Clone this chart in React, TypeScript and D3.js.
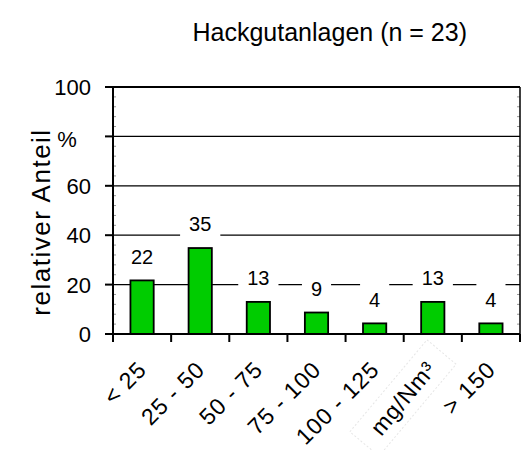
import React from 'react';
import * as d3 from 'd3';

const categories = ["< 25", "25 - 50", "50 - 75", "75 - 100", "100 - 125", "125 - 150", "> 150"];
const shares = [21.7, 34.8, 13.0, 8.7, 4.3, 13.0, 4.3];
const valueLabels = ["22", "35", "13", "9", "4", "13", "4"];
const yTicks = [0, 20, 40, 60, 80, 100];
const yTickLabels = ["0", "20", "40", "60", "%", "100"];
const title = "Hackgutanlagen (n = 23)";
const yTitle = "relativer Anteil";
const unitLabel = "mg/Nm³";
const categoryUnderUnit = "125 - 150";

const W = 528;
const H = 450;
const left = 113;
const right = 520;
const top = 87;
const bottom = 334;
const FONT = "Arial, 'Liberation Sans', Helvetica, sans-serif";

export default function App() {
  const x = d3.scaleBand<string>().domain(categories).range([left, right]).paddingInner(0.6).paddingOuter(0.3);
  const y = d3.scaleLinear().domain([0, 100]).range([bottom, top]);
  const step = x.step();
  const half = (step * x.paddingInner()) / 2;
  const boundaries = categories.map((c) => (x(c) as number) - half).concat([(x(categories[categories.length - 1]) as number) + x.bandwidth() + half]);
  const minor = d3.range(0, 101, 4).filter((v) => v % 20 !== 0);
  const labelFont = 20;

  return (
    <svg width={W} height={H} style={{ position: 'absolute', left: 0, top: 0, background: '#fff' }} fontFamily={FONT}>
      <rect x={0} y={0} width={W} height={H} fill="#fff" />
      <text x={467} y={41} fontSize={25} textAnchor="end" fill="#000">{title}</text>

      {/* gridlines */}
      {yTicks.filter((t) => t > 0 && t < 100).map((t) => (
        <line key={'g' + t} x1={left} x2={right} y1={y(t)} y2={y(t)} stroke="#000" strokeWidth={1.2} />
      ))}

      {/* value label boxes */}
      {categories.map((c, i) => {
        const cx = (x(c) as number) + x.bandwidth() / 2;
        const cy = y(shares[i]) - 24;
        const w = valueLabels[i].length * labelFont * 0.556 + 18;
        return (
          <g key={'v' + c}>
            <rect x={cx - w / 2} y={cy - 17} width={w} height={34} fill="#fff" />
            <text x={cx} y={cy} dy="0.36em" fontSize={labelFont} textAnchor="middle" fill="#000">{valueLabels[i]}</text>
          </g>
        );
      })}

      {/* bars */}
      {categories.map((c, i) => (
        <rect key={'b' + c} x={x(c)} y={y(shares[i])} width={x.bandwidth()} height={bottom - y(shares[i])}
          fill="#00CC00" stroke="#000" strokeWidth={1.8} />
      ))}

      {/* minor ticks */}
      {minor.map((t) => (
        <g key={'m' + t}>
          <line x1={left} x2={left + 3} y1={y(t)} y2={y(t)} stroke="#999" strokeWidth={1} />
          <line x1={right} x2={right - 3} y1={y(t)} y2={y(t)} stroke="#999" strokeWidth={1} />
        </g>
      ))}

      {/* frame */}
      <line x1={right} x2={right} y1={top} y2={bottom} stroke="#000" strokeWidth={1.5} />
      <line x1={left - 8} x2={right} y1={top} y2={top} stroke="#000" strokeWidth={2} />
      <line x1={left} x2={left} y1={top} y2={bottom + 8} stroke="#000" strokeWidth={2} />
      <line x1={left - 8} x2={right} y1={bottom} y2={bottom} stroke="#000" strokeWidth={2} />

      {/* y ticks */}
      {yTicks.map((t, i) => (
        <g key={'y' + t}>
          <line x1={left - 8} x2={left} y1={y(t)} y2={y(t)} stroke="#000" strokeWidth={2} />
          {yTickLabels[i] === '%' ? (
            <text x={67} y={y(t) + 3} dy="0.36em" fontSize={22} textAnchor="middle" fill="#000">{yTickLabels[i]}</text>
          ) : (
            <text x={91} y={y(t)} dy="0.36em" fontSize={22} textAnchor="end" fill="#000">{yTickLabels[i]}</text>
          )}
        </g>
      ))}

      {/* x ticks */}
      {boundaries.map((b, i) => (
        <line key={'xt' + i} x1={b} x2={b} y1={bottom} y2={bottom + 8} stroke="#000" strokeWidth={2} />
      ))}

      {/* x labels */}
      {categories.filter((c) => c !== categoryUnderUnit).map((c) => {
        const cx = (x(c) as number) + x.bandwidth() / 2;
        return (
          <text key={'xl' + c} transform={`translate(${cx + 6},${371}) rotate(-45)`} fontSize={23} letterSpacing={1}
            textAnchor="end" fill="#000">{c}</text>
        );
      })}

      {/* unit label box */}
      <g transform="translate(403,398) rotate(-50)">
        <rect x={-60} y={-19} width={120} height={38} fill="#fff" stroke="#e6e6e6" strokeWidth={1} strokeDasharray="2,2" />
        <text x={0} y={0} dy="0.36em" fontSize={23} letterSpacing={1} textAnchor="middle" fill="#000">{unitLabel}</text>
      </g>

      {/* y title */}
      <text transform={`translate(50,222) rotate(-90)`} fontSize={26} letterSpacing={1.5} textAnchor="middle" fill="#000">{yTitle}</text>
    </svg>
  );
}
